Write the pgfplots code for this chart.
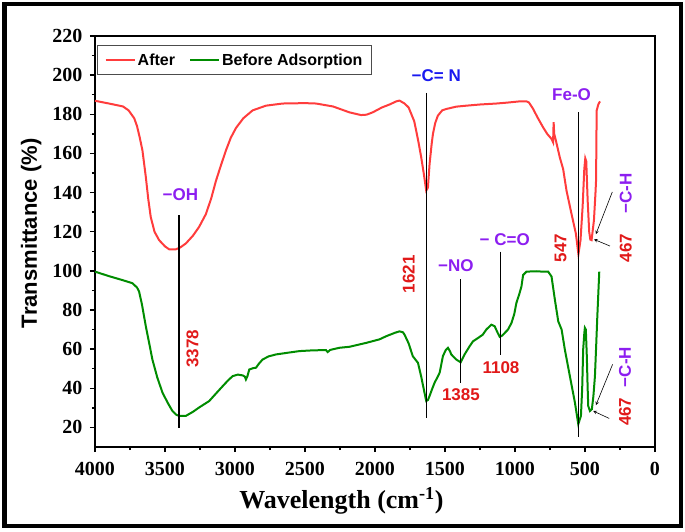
\documentclass[border=0pt]{standalone}
\usepackage{pgfplots}
\pgfplotsset{compat=1.18}
\usepackage{fontspec}
\setmainfont{Liberation Serif}
\setsansfont{Liberation Sans}
\definecolor{cred}{RGB}{255,60,60}
\definecolor{cgreen}{RGB}{0,140,0}
\definecolor{lred}{RGB}{225,25,25}
\definecolor{lpurple}{RGB}{140,30,240}
\definecolor{lblue}{RGB}{25,25,240}
\begin{document}
\begin{tikzpicture}
\useasboundingbox (0,0) rectangle (685pt,531pt);
\draw[line width=4.5pt] (4.5pt,5pt) rectangle (681pt,527pt);
\begin{axis}[
  at={(95pt,84pt)}, anchor=south west,
  scale only axis, width=560pt, height=411pt,
  x dir=reverse, xmin=0, xmax=4000, ymin=10, ymax=220,
  xtick={0,500,...,4000}, ytick={20,40,...,220},
  minor x tick num=1, minor y tick num=1,
  xtick pos=left, ytick pos=left, tick align=outside,
  major tick length=5pt, minor tick length=3pt,
  every tick/.style={black, line width=1.5pt},
  axis line style={line width=2.8pt},
  scaled x ticks=false,
  /pgf/number format/assume math mode=true,
  /pgf/number format/set thousands separator={},
  tick label style={font=\bfseries\fontsize{20}{20}\selectfont},
  xticklabel style={yshift=-7pt},
  yticklabel style={xshift=-4pt},
  xlabel={\bfseries\fontsize{26}{26}\selectfont Wavelength (cm\textsuperscript{-1})},
  ylabel={\sffamily\bfseries\fontsize{22}{22}\selectfont Transmittance (\%)},
  xlabel style={at={(axis description cs:0.44,-0.13)}, anchor=center},
  ylabel style={at={(axis description cs:-0.114,0.52)}, anchor=center},
  legend columns=2,
  legend style={at={(axis description cs:0.004,0.978)}, anchor=north west,
    draw=black!70, line width=1pt, font=\sffamily\bfseries\fontsize{16}{16}\selectfont,
    inner xsep=7pt, inner ysep=6pt},
  legend image code/.code={\draw[#1, line width=2pt] (0pt,0pt) -- (29pt,0pt);},
  /tikz/every even column/.append style={column sep=12pt},
]
\addplot[cred, line width=2pt] coordinates {
(4000,186.9) (3900,185.5) (3800,184) (3760,182) (3720,178) (3700,174) (3680,168) (3661,161.5) (3637,148) (3620,137) (3602,127.6) (3575,120) (3542,115.7) (3500,112.5) (3470,111) (3423,111) (3390,112) (3351,114) (3300,118) (3256,122.5) (3208,129) (3170,137) (3136,146) (3100,154) (3065,161.5) (3030,168) (2993,173) (2940,178) (2874,182) (2779,184.4) (2660,185.5) (2500,185.7) (2421,185.5) (2300,184) (2183,181) (2100,179.6) (2060,179.8) (2016,181) (1950,183.5) (1896,185) (1848,186.6) (1825,187) (1789,185.5) (1760,183.5) (1741,180.2) (1720,176.5) (1706,171.7) (1690,166) (1670,158.1) (1650,149) (1634,141) (1622,142.5) (1610,154.7) (1595,165) (1586,170) (1570,175.5) (1551,179.3) (1520,182) (1491,182.7) (1420,183.9) (1348,184.4) (1250,185) (1133,185.5) (1050,186) (966,186.6) (918,186.6) (900,186) (870,182.7) (840,178.5) (799,173.3) (770,170) (739,167.4) (728,165.7) (724,176) (720,170) (708,166.6) (680,158) (656,152) (632,141) (596,129) (565,119) (547,108.5) (532,115.7) (517,132.7) (505,152) (498,157.5) (491,156) (481,136) (470,120) (462,116) (453,115.7) (436,125.9) (425,140) (421,146.2) (418,170) (417,181.8) (405,185) (393,186.6)
};
\addlegendentry{After}
\addplot[cgreen, line width=2pt] coordinates {
(4000,99.6) (3900,97.3) (3800,95.2) (3733,93.7) (3700,91.5) (3685,89.4) (3665,83) (3637,71.7) (3610,62) (3590,54.7) (3555,45.5) (3518,37.8) (3480,32.5) (3447,28.4) (3420,26.5) (3399,25.9) (3351,25.9) (3300,28) (3256,30.2) (3184,33.5) (3140,37) (3089,41) (3050,44) (3017,46.2) (2980,47) (2946,46.6) (2930,46) (2922,44.5) (2912,46) (2898,49.6) (2870,50.3) (2850,50.5) (2830,52.5) (2803,54.7) (2760,56.3) (2707,57.3) (2620,58.2) (2540,59) (2440,59.4) (2350,59.5) (2338,58.5) (2320,59.6) (2254,60.7) (2183,61.2) (2063,63.2) (1968,65) (1920,66.6) (1860,68.3) (1825,69.1) (1800,68.6) (1789,67.4) (1760,63) (1730,56.4) (1693,53) (1670,46) (1650,39) (1634,33.5) (1622,34) (1610,36.1) (1590,40) (1574,42.9) (1555,45.5) (1538,48) (1527,52) (1515,56.4) (1495,59.5) (1479,60.7) (1465,59) (1455,57.3) (1420,54.7) (1388,53.3) (1360,57.3) (1324,61.5) (1300,64) (1264,65.7) (1230,67.4) (1205,70) (1169,72.5) (1145,71.7) (1125,68.5) (1109,66.3) (1090,67) (1073,68.3) (1050,70) (1025,73.4) (1005,78) (990,83.6) (970,88) (954,92) (942,97.9) (918,99.6) (850,99.8) (800,99.6) (763,99.6) (739,97.1) (715,85.2) (691,74.2) (667,70) (644,59.8) (608,46.2) (572,32.7) (548,21.7) (529,25.9) (520,40) (513,59.8) (505,68) (501,70.9) (494,70) (487,56.4) (481,40) (477,31) (465,28.4) (451,29.3) (440,36) (429,46.2) (420,62) (412,76.7) (398,99.6)
};
\addlegendentry{Before Adsorption}
% annotation lines
\draw[black, line width=1.2pt] (axis cs:3400,128.4) -- (axis cs:3400,19.5);
\draw[black, line width=1.2pt] (axis cs:1630,190.9) -- (axis cs:1630,24.6);
\draw[black, line width=1.2pt] (axis cs:1388,95.7) -- (axis cs:1388,42.5);
\draw[black, line width=1.2pt] (axis cs:1104,109.8) -- (axis cs:1104,56.8);
\draw[black, line width=1.2pt] (axis cs:548,181) -- (axis cs:548,14.9);
% arrows
\draw[black, line width=0.6pt, -stealth] (axis cs:305,140.3) -- (axis cs:422,118.8);
\draw[black, line width=0.6pt, -stealth] (axis cs:322,112.7) -- (axis cs:436,116.1);
\draw[black, line width=0.6pt, -stealth] (axis cs:303,52.2) -- (axis cs:422,31.4);
\draw[black, line width=0.6pt, -stealth] (axis cs:327,24.6) -- (axis cs:441,28.4);
% labels
\tikzset{lab/.style={font=\sffamily\bfseries\fontsize{17}{17}\selectfont, inner sep=0pt}}
\node[lab, text=lpurple] at (axis cs:3390,138.8) {−OH};
\node[lab, text=lblue] at (axis cs:1562,199.5) {−C= N};
\node[lab, text=lpurple] at (axis cs:596,190) {Fe-O};
\node[lab, text=lpurple] at (axis cs:1422,102.9) {−NO};
\node[lab, text=lpurple] at (axis cs:1073,116.2) {− C=O};
\node[lab, text=lred] at (axis cs:1386,36.8) {1385};
\node[lab, text=lred] at (axis cs:1100,50.7) {1108};
\node[lab, text=lred, rotate=90] at (axis cs:3304,60.2) {3378};
\node[lab, text=lred, rotate=90] at (axis cs:1759,98.3) {1621};
\node[lab, text=lred, rotate=90] at (axis cs:674,111.7) {547};
\node[lab, text=lred, rotate=90] at (axis cs:209,111.7) {467};
\node[lab, text=lpurple, rotate=90] at (axis cs:209,139.5) {−C-H};
\node[lab, text=lpurple, rotate=90] at (axis cs:215,50.9) {−C-H};
\node[lab, text=lred, rotate=90] at (axis cs:215,28) {467};
\end{axis}
\end{tikzpicture}
\end{document}
